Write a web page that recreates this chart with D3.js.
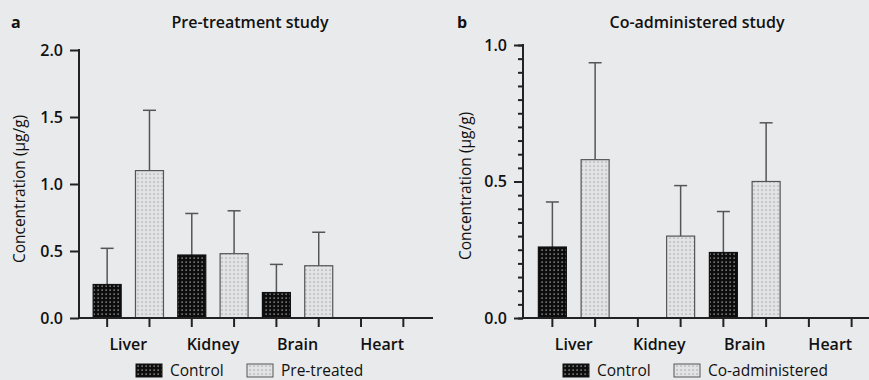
<!DOCTYPE html>
<html>
<head>
<meta charset="utf-8">
<script src="https://cdn.jsdelivr.net/npm/d3@7"></script>
<style>
  body { margin:0; background:#e9eaeb; }
  svg { display:block; font-family:"Open Sans", sans-serif; }
</style>
</head>
<body>
<svg width="869" height="380"></svg>
<script>
// data
const categories = ["Liver","Kidney","Brain","Heart"];
const preControl = [0.25, 0.47, 0.19, 0];
const preControlSd = [0.27, 0.31, 0.21, 0];
const preTreated = [1.10, 0.48, 0.39, 0];
const preTreatedSd = [0.45, 0.32, 0.25, 0];
const coControl = [0.26, 0, 0.24, 0];
const coControlSd = [0.165, 0, 0.15, 0];
const coAdmin = [0.58, 0.30, 0.50, 0];
const coAdminSd = [0.355, 0.185, 0.215, 0];
const preTicks = [0, 0.5, 1.0, 1.5, 2.0];
const coTicks = [0, 0.5, 1.0];

const svg = d3.select("svg");
const defs = svg.append("defs");

// dotted fills
const pDark = defs.append("pattern").attr("id","dark").attr("patternUnits","userSpaceOnUse")
  .attr("width",4).attr("height",4);
pDark.append("rect").attr("width",4).attr("height",4).attr("fill","#0d0d0d");
pDark.append("rect").attr("x",1.5).attr("y",1.5).attr("width",1.2).attr("height",1.2).attr("fill","#d0d0d0");
const pLight = defs.append("pattern").attr("id","light").attr("patternUnits","userSpaceOnUse")
  .attr("width",4).attr("height",4);
pLight.append("rect").attr("width",4).attr("height",4).attr("fill","#e2e3e4");
pLight.append("rect").attr("x",1.5).attr("y",1.5).attr("width",1.1).attr("height",1.1).attr("fill","#8a8a8a");

function panel(cfg){
  const g = svg.append("g");
  const x = d3.scaleBand().domain(categories).range(cfg.xr);
  const inner = d3.scalePoint().domain(["c","t"]).range([0, x.bandwidth()]).padding(0.5);
  const y = d3.scaleLinear().domain(cfg.yd).range([318, cfg.ytop]);
  const bw = 28;

  const rows = [];
  categories.forEach((c,i)=>{
    rows.push({cat:c, k:"c", v:cfg.ctrl[i], sd:cfg.ctrlSd[i]});
    rows.push({cat:c, k:"t", v:cfg.trt[i], sd:cfg.trtSd[i]});
  });
  const cx = d => x(d.cat) + inner(d.k);

  // error bars (behind bars)
  const eb = g.selectAll(".eb").data(rows.filter(d=>d.sd>0)).enter().append("g")
    .attr("stroke","#555").attr("stroke-width",1.5);
  eb.append("line").attr("x1",cx).attr("x2",cx).attr("y1",d=>y(d.v)).attr("y2",d=>y(d.v+d.sd));
  eb.append("line").attr("x1",d=>cx(d)-6.5).attr("x2",d=>cx(d)+6.5)
    .attr("y1",d=>y(d.v+d.sd)).attr("y2",d=>y(d.v+d.sd));

  g.selectAll(".bar").data(rows.filter(d=>d.v>0)).enter().append("rect")
    .attr("x",d=>cx(d)-bw/2).attr("width",bw)
    .attr("y",d=>y(d.v)).attr("height",d=>y(0)-y(d.v))
    .attr("fill",d=>d.k==="c"?"url(#dark)":"url(#light)")
    .attr("stroke",d=>d.k==="c"?"#111":"#555").attr("stroke-width",1.2);

  // y axis
  const yAxis = d3.axisLeft(y).tickValues(cfg.yticks).tickFormat(d3.format(".1f"))
    .tickSizeInner(9).tickSizeOuter(0).tickPadding(7);
  const ya = g.append("g").attr("transform",`translate(${cfg.x0},0)`).call(yAxis);
  ya.select(".domain").remove();
  ya.selectAll(".tick line").attr("stroke","#222").attr("stroke-width",2);
  ya.selectAll("text").attr("fill","#111").attr("font-size",16).attr("font-weight",600)
    .attr("font-family","'Open Sans', sans-serif");
  if (cfg.minor){
    g.append("g").attr("transform",`translate(${cfg.x0},0)`)
      .call(d3.axisLeft(y).ticks(20).tickSize(5).tickFormat(""))
      .call(a=>a.select(".domain").remove())
      .selectAll("line").attr("stroke","#222").attr("stroke-width",2);
  }
  g.append("line").attr("x1",cfg.x0).attr("x2",cfg.x0).attr("y1",y(cfg.yd[1])-1).attr("y2",319)
    .attr("stroke","#222").attr("stroke-width",2);

  // x axis: a tick under every bar, label under every group
  g.append("line").attr("x1",cfg.x0).attr("x2",cfg.xend).attr("y1",318).attr("y2",318)
    .attr("stroke","#222").attr("stroke-width",2);
  g.selectAll(".xt").data(rows).enter().append("line")
    .attr("x1",cx).attr("x2",cx).attr("y1",318).attr("y2",327)
    .attr("stroke","#222").attr("stroke-width",2);
  g.selectAll(".xl").data(categories).enter().append("text")
    .attr("x",d=>x(d)+x.bandwidth()/2).attr("y",350).attr("text-anchor","middle")
    .attr("font-size",16).attr("font-weight",600).attr("fill","#111").text(d=>d);

  // titles
  g.append("text").attr("x",cfg.letterX).attr("y",28).attr("font-size",16).attr("font-weight",700)
    .attr("fill","#111").text(cfg.letter);
  g.append("text").attr("x",cfg.titleX).attr("y",28).attr("text-anchor","middle")
    .attr("font-size",16).attr("font-weight",600).attr("fill","#111").text(cfg.title);
  g.append("text").attr("transform",`translate(${cfg.labX},${cfg.labY}) rotate(-90)`)
    .attr("text-anchor","middle").attr("font-size",15.5).attr("fill","#111")
    .text("Concentration (µg/g)");

  // legend
  const lg = g.append("g").attr("transform",`translate(${cfg.legX},364)`);
  lg.append("rect").attr("width",26).attr("height",13).attr("fill","url(#dark)").attr("stroke","#111");
  lg.append("text").attr("x",34).attr("y",12).attr("font-size",15.5).attr("fill","#111").text("Control");
  lg.append("rect").attr("x",cfg.leg2).attr("width",26).attr("height",13).attr("fill","url(#light)").attr("stroke","#555");
  lg.append("text").attr("x",cfg.leg2+34).attr("y",12).attr("font-size",15.5).attr("fill","#111").text(cfg.trtName);
}

panel({xr:[86,424.5], x0:79, xend:433, yd:[0,2], ytop:50, yticks:preTicks, minor:false,
  ctrl:preControl, ctrlSd:preControlSd, trt:preTreated, trtSd:preTreatedSd,
  letter:"a", letterX:11, title:"Pre-treatment study", titleX:250, labX:25, labY:189,
  legX:136, leg2:111, trtName:"Pre-treated"});
panel({xr:[531,873], x0:523, xend:869, yd:[0,1], ytop:45, yticks:coTicks, minor:true,
  ctrl:coControl, ctrlSd:coControlSd, trt:coAdmin, trtSd:coAdminSd,
  letter:"b", letterX:457, title:"Co-administered study", titleX:697, labX:471, labY:186,
  legX:563, leg2:111, trtName:"Co-administered"});
</script>
</body>
</html>
